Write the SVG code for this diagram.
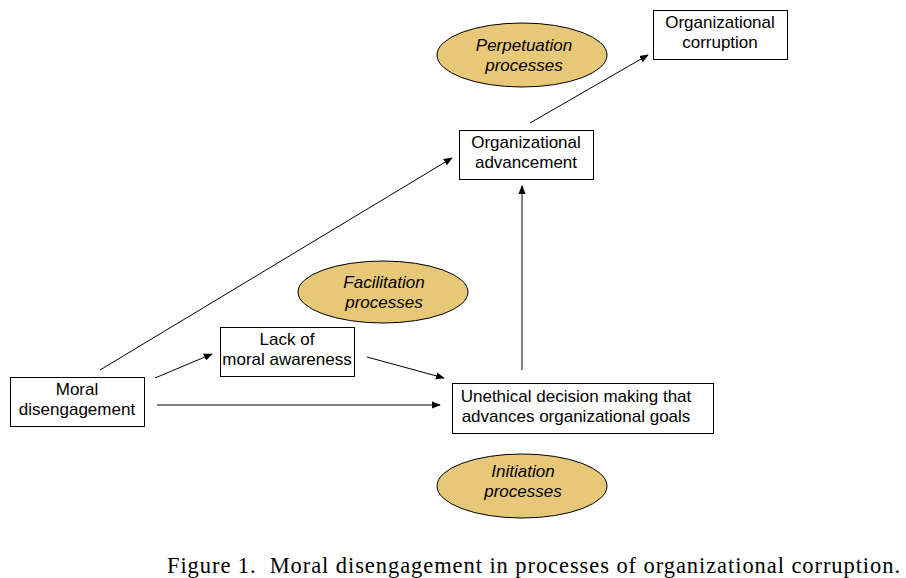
<svg xmlns="http://www.w3.org/2000/svg" width="906" height="578" viewBox="0 0 906 578">
<style>
.box{fill:#fff;stroke:#000;stroke-width:1}
.ell{fill:#E6C878;stroke:#000;stroke-width:1}
.t{font-family:"Liberation Sans",Arial,sans-serif;font-size:17px;fill:#000;text-anchor:middle}
.it{font-style:italic}
.cap{font-family:"Liberation Serif","Times New Roman",serif;font-size:22.5px;fill:#000}
.c{stroke:#000;stroke-width:1;fill:none;marker-end:url(#ah)}
</style>
<defs>
<marker id="ah" viewBox="0 0 10 10" refX="9" refY="5" markerWidth="9" markerHeight="9" markerUnits="userSpaceOnUse" orient="auto">
<path d="M0,1 L10,5 L0,9 z" fill="#000"/>
</marker>
</defs>
<rect width="906" height="578" fill="#fff"/>
<g id="connectors">
<line class="c" x1="100" y1="370" x2="452" y2="158"/>
<line class="c" x1="155" y1="378" x2="212" y2="354"/>
<line class="c" x1="367" y1="357" x2="444" y2="378"/>
<line class="c" x1="157" y1="405" x2="440" y2="405"/>
<line class="c" x1="522" y1="370" x2="522" y2="186"/>
<line class="c" x1="530" y1="123" x2="648" y2="55"/>
</g>
<g id="perpetuation">
<ellipse class="ell" cx="522" cy="55" rx="85" ry="32"/>
<text class="t it" x="524" y="51">Perpetuation</text>
<text class="t it" x="524" y="71">processes</text>
</g>
<g id="corruption">
<rect class="box" x="653.5" y="10.5" width="134" height="49"/>
<text class="t" x="720" y="28">Organizational</text>
<text class="t" x="720" y="48">corruption</text>
</g>
<g id="advancement">
<rect class="box" x="459.5" y="130.5" width="134" height="49"/>
<text class="t" x="526" y="148">Organizational</text>
<text class="t" x="526" y="168">advancement</text>
</g>
<g id="facilitation">
<ellipse class="ell" cx="383" cy="292" rx="85" ry="31"/>
<text class="t it" x="384" y="288">Facilitation</text>
<text class="t it" x="384" y="308">processes</text>
</g>
<g id="lack">
<rect class="box" x="220.5" y="327.5" width="134" height="49"/>
<text class="t" x="287" y="345">Lack of</text>
<text class="t" x="287" y="365">moral awareness</text>
</g>
<g id="moral">
<rect class="box" x="10.5" y="377.5" width="134" height="49"/>
<text class="t" x="77" y="395">Moral</text>
<text class="t" x="77" y="415">disengagement</text>
</g>
<g id="unethical">
<rect class="box" x="452.5" y="383.5" width="261" height="50"/>
<text class="t" x="576" y="402">Unethical decision making that</text>
<text class="t" x="576" y="422">advances organizational goals</text>
</g>
<g id="initiation">
<ellipse class="ell" cx="522" cy="486" rx="85" ry="32"/>
<text class="t it" x="523" y="477">Initiation</text>
<text class="t it" x="523" y="497">processes</text>
</g>
<text class="cap" x="167" y="573" textLength="733" lengthAdjust="spacing" xml:space="preserve">Figure 1.  Moral disengagement in processes of organizational corruption.</text>
</svg>
